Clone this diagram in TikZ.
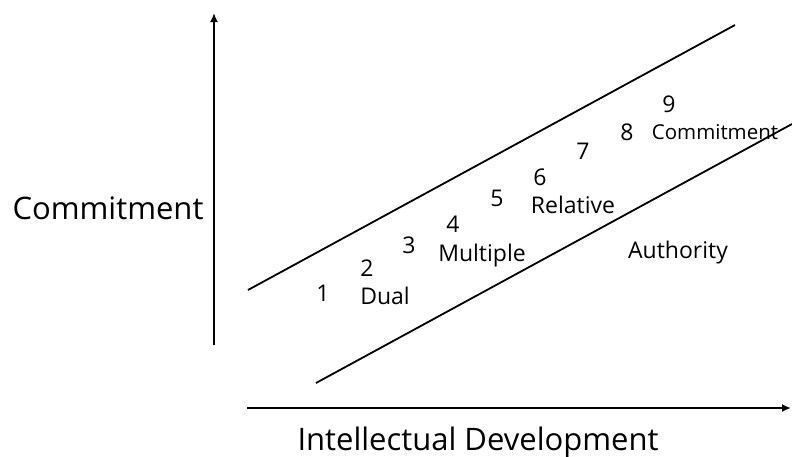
\documentclass[tikz,border=0pt]{standalone}
\usepackage{fontspec}
\usetikzlibrary{arrows.meta}
\setmainfont{Open Sans}
\begin{document}
\begin{tikzpicture}[>={Latex[length=9pt,width=8pt]},x=1pt,y=-1pt,line width=1.8pt,
    stage/.style={font=\fontsize{23}{26}\selectfont,inner sep=0pt},
    axislabel/.style={font=\fontsize{31}{36}\selectfont,inner sep=0pt}]
    \useasboundingbox (0,0) rectangle (792,456);
    % axes
    \coordinate (O) at (214,345);
    \coordinate (Top) at (214,13);
    \coordinate (Xs) at (247,408);
    \coordinate (Xe) at (791,408);
    \draw [->] (O) -- (Top);
    \draw [->] (Xs) -- (Xe);
    \node [axislabel] (Ylab) at (108,208) {Commitment};
    \node [axislabel] (Xlab) at (478,442) {Intellectual Development};
    % band
    \coordinate (U1) at (248,290);
    \coordinate (U2) at (735,25);
    \coordinate (L1) at (316,383);
    \coordinate (L2) at (792,124);
    \draw (U1) -- (U2);
    \draw (L1) -- (L2);
    % stages
    \node [stage] (s1) at (323,293) {1};
    \node [stage] (s2) at (367,268) {2};
    \node [stage] (s3) at (409,245) {3};
    \node [stage] (s4) at (453,224) {4};
    \node [stage] (s5) at (497,198) {5};
    \node [stage] (s6) at (540,177) {6};
    \node [stage] (s7) at (583,151) {7};
    \node [stage] (s8) at (627,132) {8};
    \node [stage] (s9) at (669,104) {9};
    \node [stage] (Dual) at (385,296) {Dual};
    \node [stage] (Multiple) at (482,256) {Multiple};
    \node [stage] (Relative) at (573,205) {Relative};
    \node [stage,font=\fontsize{20.5}{24}\selectfont] (Commit) at (715,132) {Commitment};
    \node [stage] (Authority) at (678,253) {Authority};
\end{tikzpicture}
\end{document}
